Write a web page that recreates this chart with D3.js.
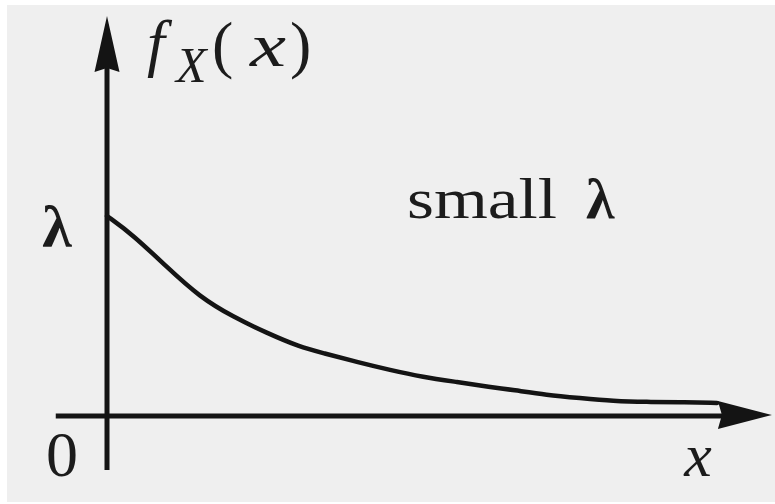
<!DOCTYPE html>
<html>
<head>
<meta charset="utf-8">
<script src="https://cdn.jsdelivr.net/npm/d3@7"></script>
<style>
  html, body { margin: 0; padding: 0; background: #ffffff; }
  svg { display: block; }
</style>
</head>
<body>
<svg id="chart" width="775" height="504"></svg>
<script>
// Exponential density f_X(x) = λ e^{-λx} for a small rate λ (λ taken as 1 unit of height)
const curveX = [0, 0.43, 0.98, 1.52, 2.07, 2.62, 3.16, 3.54, 4.10, 4.64, 5.18, 5.74, 6.28, 6.66, 7.21, 7.75, 8.30, 8.85, 9.39, 10.0];
const curveY = [1.0, 0.905, 0.745, 0.595, 0.495, 0.415, 0.345, 0.315, 0.27, 0.23, 0.195, 0.17, 0.145, 0.13, 0.105, 0.09, 0.075, 0.07, 0.07, 0.065];

const yTickValues = [1];
const yTickLabels = ["λ"];
const xTickValues = [0];
const xTickLabels = ["0"];

const xAxisExtent = [-0.84, 10.9];
const yAxisExtent = [-0.27, 2.0];

const serif = "'Liberation Serif', 'Times New Roman', Times, serif";
const textInk = "#1c1c1c";

const svg = d3.select("#chart");

// paper background
svg.append("rect")
  .attr("x", 7).attr("y", 5)
  .attr("width", 768).attr("height", 497)
  .attr("fill", "#efefef");

const x = d3.scaleLinear().domain([0, 10]).range([107, 717]);
const y = d3.scaleLinear().domain([0, 1]).range([416, 216]);

const ink = "#141414";

// horizontal axis with arrowhead
svg.append("line")
  .attr("x1", x(xAxisExtent[0])).attr("x2", x(xAxisExtent[1]) - 20)
  .attr("y1", y(0)).attr("y2", y(0))
  .attr("stroke", ink).attr("stroke-width", 5);
const xt = x(xAxisExtent[1]);
svg.append("path")
  .attr("d", `M${xt},${y(0) - 1} L${xt - 54},${y(0) - 15} L${xt - 50},${y(0) - 1} L${xt - 54},${y(0) + 13} Z`)
  .attr("fill", ink);

// vertical axis with arrowhead
svg.append("line")
  .attr("x1", x(0)).attr("x2", x(0))
  .attr("y1", y(yAxisExtent[0])).attr("y2", y(yAxisExtent[1]) + 20)
  .attr("stroke", ink).attr("stroke-width", 5);
const yt = y(yAxisExtent[1]);
svg.append("path")
  .attr("d", `M${x(0)},${yt} L${x(0) - 12.5},${yt + 56} L${x(0)},${yt + 52} L${x(0) + 12.5},${yt + 56} Z`)
  .attr("fill", ink);

// density curve
const line = d3.line()
  .x((d, i) => x(curveX[i]))
  .y((d, i) => y(curveY[i]))
  .curve(d3.curveBasis);
svg.append("path")
  .datum(curveX)
  .attr("d", line)
  .attr("fill", "none")
  .attr("stroke", ink)
  .attr("stroke-width", 4.5)
  .attr("stroke-linecap", "round");

function label(parent, px, py, size, str) {
  return parent.append("text")
    .attr("x", px).attr("y", py)
    .attr("font-family", serif)
    .attr("font-size", size)
    .attr("fill", textInk)
    .text(str);
}

// tick labels
svg.selectAll(".ytick")
  .data(yTickValues)
  .join("text")
  .attr("class", "ytick")
  .attr("x", x(0) - 50)
  .attr("y", d => y(d) + 31)
  .attr("text-anchor", "middle")
  .attr("font-family", serif)
  .attr("fill", textInk)
  .attr("font-size", 60)
  .attr("font-weight", "bold")
  .text((d, i) => yTickLabels[i]);

svg.selectAll(".xtick")
  .data(xTickValues)
  .join("text")
  .attr("class", "xtick")
  .attr("x", d => x(d) - 45)
  .attr("y", y(0) + 60)
  .attr("text-anchor", "middle")
  .attr("font-family", serif)
  .attr("fill", textInk)
  .attr("font-size", 64)
  .text((d, i) => xTickLabels[i]);

// axis titles
label(svg, 698, 476, 62, "x")
  .attr("text-anchor", "middle")
  .attr("font-style", "italic");

const fx = svg.append("g");
label(fx, 147, 64, 64, "f").attr("font-style", "italic");
label(fx, 176, 82, 50, "X").attr("font-style", "italic");
label(fx, 212, 66, 64, "(");
label(fx, 250, 66, 62, "x").attr("font-style", "italic")
  .attr("textLength", 36).attr("lengthAdjust", "spacingAndGlyphs");
label(fx, 290, 66, 64, ")");

// annotation
const ann = svg.append("g");
label(ann, 407, 218, 58, "small")
  .attr("textLength", 150).attr("lengthAdjust", "spacingAndGlyphs");
label(ann, 586, 218, 58, "λ").attr("font-weight", "bold");
</script>
</body>
</html>
